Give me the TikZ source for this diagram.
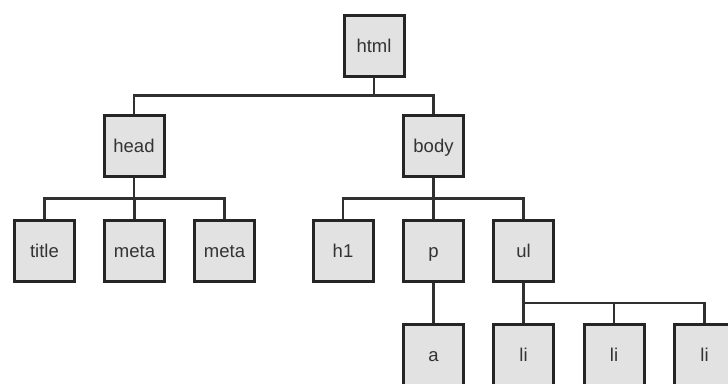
\documentclass[tikz,border=0pt]{standalone}
\usepackage{fontspec}
\setmainfont{Liberation Sans}
\usetikzlibrary{calc, positioning}
\definecolor{boxfill}{HTML}{E2E2E2}
\definecolor{boxline}{HTML}{252525}
\definecolor{wire}{HTML}{303030}
\tikzset{
  tag/.style={draw=boxline, fill=boxfill, line width=3pt, minimum width=60pt, minimum height=61pt, inner sep=0pt, text height=15pt, text depth=2pt, text=black!80, font=\fontsize{18.5}{22}\selectfont},
  elbow/.style={draw=wire, line width=2.6pt, to path={(\tikztostart) |- ($(\tikztostart)!0.5!(\tikztotarget)$) -| (\tikztotarget)}}
}
\begin{document}
\begin{tikzpicture}[x=1pt, y=-1pt]
\useasboundingbox (0,0) rectangle (728,383);
\clip (0,0) rectangle (728,383);
\node[tag] (html) at (374,45.5) {html};
\node[tag] (head) at (134,146) {head};
\node[tag] (body) at (433.5,146) {body};
\foreach \n/\x/\t in {title/44.5/title, meta1/134.5/meta, meta2/224.5/meta, h1/343/h1, p/433.5/p, ul/523.5/ul}
  \node[tag] (\n) at (\x,251) {\t};
\foreach \n/\x/\t in {a/433.5/a, li1/523.5/li, li2/614/li, li3/704.5/li}
  \node[tag] (\n) at (\x,355) {\t};
% links
\foreach \s/\e in {html/head, html/body, head/title, head/meta1, head/meta2, body/h1, body/p, body/ul, p/a, ul/li1, ul/li2, ul/li3}
  \draw[elbow] (\s.south) to (\e.north);
\end{tikzpicture}
\end{document}
